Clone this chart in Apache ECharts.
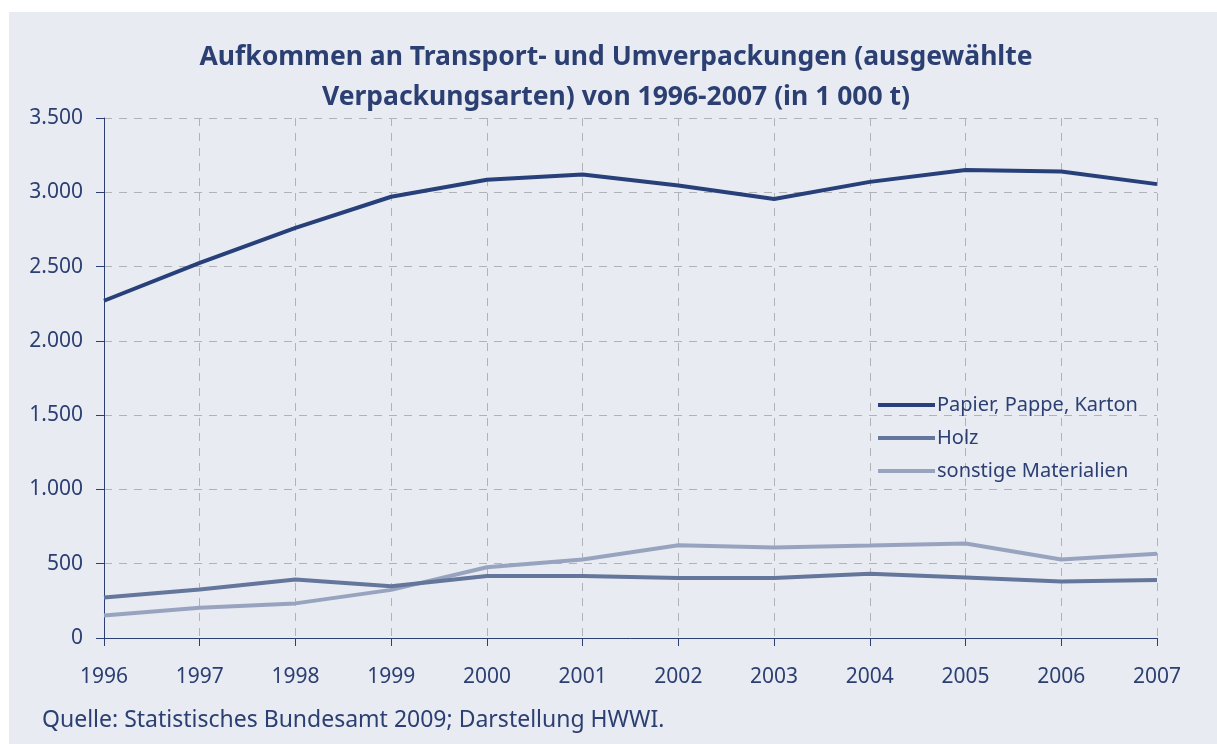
<!DOCTYPE html>
<html>
<head>
<meta charset="utf-8">
<script src="https://cdn.jsdelivr.net/npm/echarts@6/dist/echarts.min.js"></script>
<style>
html,body{margin:0;padding:0;background:#ffffff;}
#bg{position:absolute;left:9px;top:12px;width:1208px;height:732px;background:#e8ebf1;}
#chart{position:absolute;left:0;top:0;width:1217px;height:744px;}
</style>
</head>
<body>
<div id="bg"></div>
<div id="chart"></div>
<script>
const titleLines = ["Aufkommen an Transport- und Umverpackungen (ausgewählte", "Verpackungsarten) von 1996-2007 (in 1 000 t)"];
const sourceText = "Quelle: Statistisches Bundesamt 2009; Darstellung HWWI.";
const years = ["1996","1997","1998","1999","2000","2001","2002","2003","2004","2005","2006","2007"];
const seriesNames = ["Papier, Pappe, Karton","Holz","sonstige Materialien"];
const papier = [2270, 2525, 2760, 2970, 3085, 3120, 3045, 2955, 3070, 3150, 3140, 3055];
const holz = [273, 327, 393, 349, 418, 418, 404, 404, 433, 407, 380, 391];
const sonstige = [151, 204, 233, 324, 476, 529, 624, 609, 622, 636, 529, 567];
const yTicks = [0, 500, 1000, 1500, 2000, 2500, 3000, 3500];

const textColor = '#2b3f72';
const colors = ['#27407a', '#64769b', '#98a4bf'];
const font = 'Noto Sans';

const chart = echarts.init(document.getElementById('chart'), null, {renderer:'canvas'});
function fmt(v){ return String(v).replace(/\B(?=(\d{3})+(?!\d))/g, '.'); }
chart.setOption({
  backgroundColor: 'transparent',
  animation: false,
  graphic: [{
    type: 'text', x: 616, y: 37,
    style: {text: titleLines.join('\n'), fill: textColor, font: 'bold 26.5px "Noto Sans"', lineHeight: 40, align: 'center', verticalAlign: 'top'}
  }, {
    type: 'text', left: 42, top: 709,
    style: {text: sourceText, fill: textColor, font: '23px "Noto Sans"'}
  }],
  legend: {
    orient: 'vertical', left: 873, top: 390, itemGap: 13,
    itemWidth: 57, itemHeight: 4, icon: 'rect',
    textStyle: {color: textColor, fontFamily: font, fontSize: 20, padding: [0,0,0,-3]},
    data: seriesNames
  },
  grid: {left: 104, right: 60, top: 118, bottom: 106, containLabel: false},
  xAxis: {
    type: 'category', data: years, boundaryGap: false,
    axisLine: {lineStyle: {color: '#2b3f72', width: 1}},
    axisTick: {show: true, length: 8, lineStyle: {color: '#2b3f72'}},
    axisLabel: {color: textColor, fontFamily: font, fontSize: 21, margin: 29},
    splitLine: {show: true, lineStyle: {color: '#b0b2b6', type: [8,7], width: 1}}
  },
  yAxis: {
    type: 'value', min: 0, max: 3500, interval: 500,
    axisLine: {show: true, lineStyle: {color: '#2b3f72', width: 1}},
    axisTick: {show: true, length: 8, lineStyle: {color: '#2b3f72'}},
    axisLabel: {color: textColor, fontFamily: font, fontSize: 21, margin: 21,
      formatter: v => yTicks.includes(v) ? fmt(v) : ''},
    splitLine: {show: true, lineStyle: {color: '#b0b2b6', type: [8,7], width: 1}}
  },
  series: [
    {name: seriesNames[0], type: 'line', data: papier, symbol: 'none', lineStyle: {width: 4, color: colors[0]}, itemStyle: {color: colors[0]}, z: 3},
    {name: seriesNames[1], type: 'line', data: holz, symbol: 'none', lineStyle: {width: 4, color: colors[1]}, itemStyle: {color: colors[1]}, z: 2},
    {name: seriesNames[2], type: 'line', data: sonstige, symbol: 'none', lineStyle: {width: 4, color: colors[2]}, itemStyle: {color: colors[2]}, z: 1}
  ]
});
</script>
</body>
</html>
